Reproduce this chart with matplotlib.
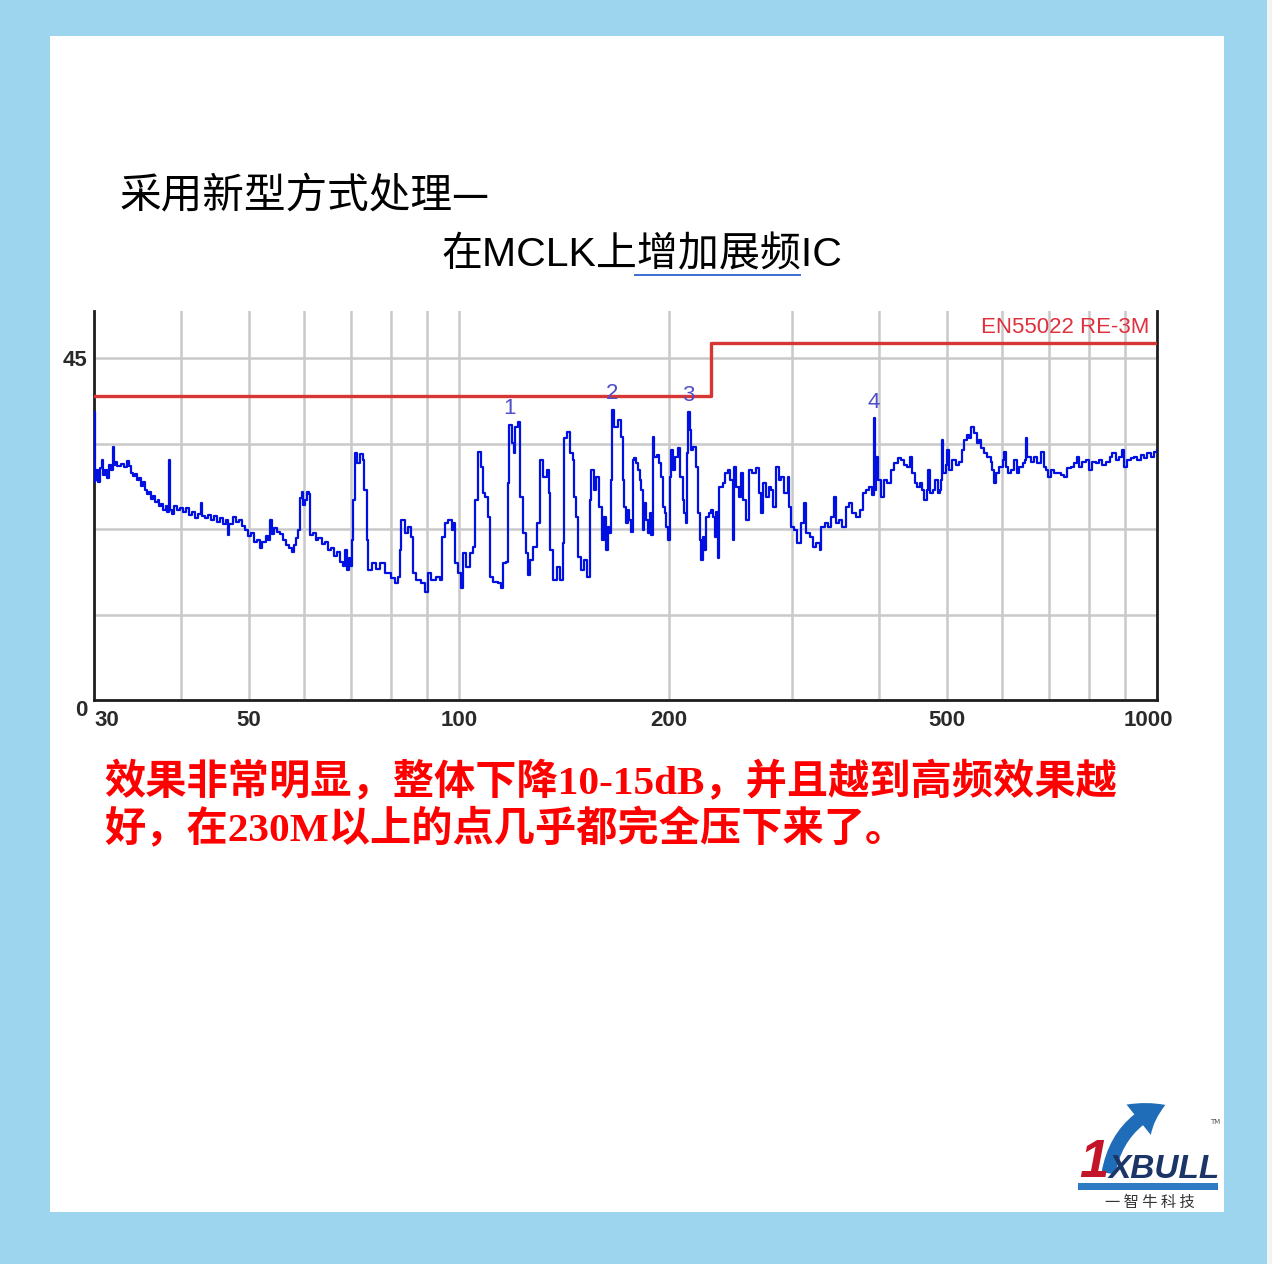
import matplotlib
matplotlib.use("Agg")
import matplotlib.pyplot as plt
import matplotlib.transforms as mtransforms
from matplotlib.patches import Rectangle, FancyArrowPatch
from matplotlib.lines import Line2D
from matplotlib.ticker import NullLocator

# ---- data (MHz, dBuV/m) ----
freq_mhz = [
    30.0, 30.05, 30.1, 30.2, 30.4, 30.6, 30.8, 30.9, 31.1, 31.3, 31.5, 31.7, 31.9, 32.0, 32.2,
    32.4, 32.8, 33.1, 33.4, 33.7, 33.9, 34.1, 34.3, 34.6, 34.8, 35.0, 35.3, 35.5, 35.7, 36.0,
    36.2, 36.5, 36.7, 37.0, 37.2, 37.4, 37.7, 38.0, 38.2, 38.4, 38.5, 38.8, 39.0, 39.4, 39.8,
    40.2, 40.6, 41.1, 41.5, 41.8, 42.3, 42.7, 42.8, 43.2, 43.7, 44.1, 44.5, 45.0, 45.4, 45.9,
    46.3, 46.6, 46.9, 47.4, 47.9, 48.4, 48.9, 49.4, 49.8, 50.3, 50.8, 51.3, 51.8, 52.3, 52.9,
    53.2, 53.6, 53.9, 54.3, 54.8, 55.4, 55.9, 56.5, 57.0, 57.6, 58.0, 58.4, 58.8, 59.2, 59.5,
    59.7, 60.1, 60.5, 60.9, 61.1, 61.7, 62.3, 62.9, 63.6, 64.2, 64.9, 65.5, 66.2, 66.9, 67.5,
    68.2, 68.6, 69.1, 69.5, 69.8, 70.2, 70.5, 70.9,
    71.5, 72.2, 72.8, 73.2, 73.9, 74.1, 75.0, 76.0, 77.0, 78.3, 80.0, 80.9, 81.8, 82.4, 82.7,
    83.6, 84.5, 85.5, 85.9, 86.9, 88.3, 89.3, 90.3, 91.3, 92.8, 93.9, 94.4, 95.4, 96.5, 97.6,
    98.1, 98.6, 99.7, 100.8, 101.4, 102.5, 103.6, 104.7, 105.5, 106.4, 107.4, 108.2, 109.1, 110.0,
    110.6, 111.8, 113.7, 115.0, 115.6, 116.8, 117.5, 118.1, 119.0, 119.8, 120.4, 121.4, 122.1,
    123.5, 124.9, 125.6, 126.3, 127.7, 129.2, 130.6, 132.1, 133.6, 134.4, 135.0, 136.4, 138.0,
    139.4, 140.8, 141.6, 142.6, 144.0, 145.5, 146.3, 147.1, 148.3, 149.6, 151.2, 152.5, 153.9,
    154.7, 156.0, 157.3, 158.9, 160.2, 161.6, 162.5, 163.3, 164.3, 165.2, 165.5, 167.0, 168.9,
    170.7, 171.6, 172.6, 173.6, 174.5, 175.5, 176.5, 177.4, 178.4, 179.4, 180.4, 181.4, 182.4,
    183.4, 184.4, 185.4, 186.5, 187.5, 188.5, 189.5, 190.5, 192.0, 193.3, 194.8, 195.9, 197.0,
    198.1, 199.2, 200.3, 201.4, 202.4, 204.2, 205.8, 207.0, 209.2, 210.4, 211.6, 212.2, 213.0,
    214.3, 215.3, 216.7, 218.6, 219.8, 221.1, 222.3, 223.5, 224.7, 226.0, 228.0, 229.8, 231.5,
    232.8, 233.6, 234.8, 236.1, 238.7, 240.8, 242.6, 244.8, 246.6, 248.0, 249.4, 251.6, 253.6,
    255.5, 257.8, 260.1, 263.1, 266.5, 268.8, 270.9, 272.9, 275.4, 277.8, 280.0, 282.1, 284.6,
    287.1, 289.3, 292.5, 295.8, 297.5, 299.1, 302, 305, 309, 312, 314, 318, 321, 325, 328.6,
    330, 334, 338, 341, 345, 347, 350, 354, 358, 362, 366, 370, 375, 379, 383, 387, 391, 393,
    395, 396, 399, 402, 406, 411,
    416, 420, 425, 430, 434, 439, 443, 446, 450, 453, 457, 461, 464, 468, 470, 473, 477, 481,
    485, 488, 490, 492, 494, 498, 501, 504, 509, 515, 520, 526, 529, 534, 538, 542, 547, 552,
    556, 560, 565, 571, 578, 581, 584, 587, 594, 601, 604, 607, 612, 617, 624, 630, 635, 642,
    647, 649, 652, 659, 666, 674, 682, 688, 693, 699, 705, 712, 720, 728, 735, 743, 752, 760,
    767, 773, 781, 790, 799, 808, 817, 826, 835, 845, 855, 863, 873, 882, 892, 897, 907, 917,
    927, 937, 948, 958, 969, 980, 990, 1000,
]
level_dbuv = [
    37.9, 28.7, 29.0, 30.3, 28.7, 30.5, 31.6, 29.6, 30.3, 29.2, 30.9, 30.3, 33.3, 30.9, 31.3,
    30.8, 31.1, 30.7, 31.4, 30.8, 29.9, 29.5, 29.7, 29.0, 29.2, 28.2, 28.7, 27.6, 27.1, 27.4,
    26.4, 26.8, 26.0, 26.3, 25.5, 25.8, 25.0, 25.5, 24.7, 31.6, 25.0, 24.5, 25.5, 25.0, 25.3,
    24.7, 25.3, 24.3, 24.7, 23.9, 24.5, 25.9, 24.2, 23.9, 24.3, 23.7, 24.2, 23.4, 23.9, 23.2,
    23.7, 21.7, 23.2, 24.1, 23.4, 23.7, 22.9, 22.4, 21.6, 22.0, 20.8, 21.1, 20.0, 20.8, 21.6,
    21.1, 23.7, 21.8, 22.6, 22.1, 21.8, 21.1, 20.4, 20.0, 19.5, 20.4, 21.3, 22.4, 26.6, 27.4,
    25.7, 26.3, 27.4, 27.1, 21.7, 22.0, 21.1, 21.3, 20.5, 20.8, 19.7, 20.0, 18.9, 19.5, 18.2,
    17.6, 19.7, 17.1, 18.7, 17.6, 21.1, 26.3, 32.5,
    31.2, 32.4, 31.6, 27.6, 21.1, 17.1, 18.0, 17.3, 18.0, 16.7, 16.1, 15.4, 16.2, 19.7, 23.7,
    22.0, 22.8, 21.4, 16.7, 15.8, 15.4, 14.2, 16.7, 15.8, 16.2, 15.8, 21.4, 23.3, 23.7, 22.4,
    23.3, 18.0, 16.7, 14.7, 19.3, 17.5, 19.3, 20.1, 26.3, 32.6, 30.7, 27.2, 26.7, 24.1,
    16.2, 15.5, 15.4, 14.7, 18.0, 18.2, 28.6, 36.2, 33.8, 32.5, 35.9, 36.6, 26.7,
    22.0, 19.3, 16.4, 18.4, 20.1, 23.3, 31.6, 29.3, 30.3, 27.2, 19.7, 15.8, 17.5,
    15.8, 20.7, 34.5, 35.3, 32.5, 31.6, 26.7, 24.1, 18.8, 17.1, 18.4, 16.2, 26.3,
    30.3, 27.6, 29.3, 25.4, 21.1, 24.1, 19.7, 22.8, 22.0, 29.0, 38.2, 35.9, 36.8,
    34.6, 29.0, 25.4, 23.3, 25.0, 23.7, 22.1, 31.6, 31.8, 31.2, 30.3, 29.0, 27.6,
    22.4, 25.9, 23.7, 22.0, 24.6, 21.7, 34.6, 32.0, 32.2, 31.2, 29.3, 25.4, 24.6,
    22.8, 21.1, 29.3, 32.9, 30.3, 32.0, 33.2, 29.3, 26.3, 24.6, 23.3, 32.5, 37.9,
    35.5, 32.9, 33.3, 30.7, 24.6, 21.1, 18.4, 21.4, 19.7, 24.1, 24.6, 25.0, 24.1,
    21.4, 24.7, 18.7, 28.0, 28.6, 29.9, 30.3, 29.0, 21.1, 30.7, 28.0, 26.7, 29.9,
    26.3, 23.7, 30.3, 29.9, 30.5, 27.2, 24.6, 28.6, 26.7, 28.0, 27.6, 25.4, 30.7,
    29.0, 29.3, 27.2, 29.3, 25.4, 22.8, 22.4, 20.7, 23.3, 25.9, 22.0, 21.4, 20.1, 20.7, 19.7,
    22.8, 23.3, 22.8, 24.1, 26.7, 23.3, 23.7, 22.8, 25.4, 25.9, 24.6, 24.1, 25.0, 27.2, 27.6, 28.0, 27.0, 37.1,
    27.6, 32.0, 29.0, 26.7, 29.0, 28.6,
    30.3, 31.2, 31.8, 31.6, 30.9, 30.7, 32.0, 29.9, 28.6, 28.0, 28.6, 27.6, 26.3, 27.6, 30.3, 27.2, 27.6, 29.0,
    27.2, 27.6, 29.0, 34.2, 29.9, 30.9, 32.9, 30.3, 31.6, 30.9, 31.3, 32.9, 34.2, 34.9, 34.5, 35.9, 35.1, 33.8,
    34.2, 33.2, 32.5, 32.0, 31.3, 30.3, 28.6, 29.9, 30.7, 31.6, 32.6, 30.7, 29.9, 30.3, 31.6, 29.9, 30.7, 31.2,
    31.6, 34.5, 32.0, 31.3, 32.0, 31.2, 32.6, 30.7, 30.3, 29.3, 30.3, 29.9, 29.9, 29.6, 29.3, 30.5, 30.7, 31.2,
    32.0, 30.7, 31.3, 31.6, 30.3, 31.3, 31.2, 31.6, 30.9, 31.3, 32.0, 32.5, 31.6, 32.0, 32.9, 30.7, 31.6, 31.8,
    32.0, 31.6, 32.2, 31.8, 32.5, 32.0, 32.6, 32.9,
]

limit_freq = [30, 230, 230, 1000]
limit_level = [40, 40, 47, 47]
limit_name = "EN55022 RE-3M"

marker_freq = [118.1, 165.5, 213.0, 393]
marker_level = [36.2, 38.2, 37.9, 37.1]
marker_names = ["1", "2", "3", "4"]

grid_freq = [30, 40, 50, 60, 70, 80, 90, 100, 200, 300, 400, 500, 600, 700, 800, 900, 1000]
labelled_freq = [30, 50, 100, 200, 500, 1000]
y_grid = [0, 11.25, 22.5, 33.75, 45]
y_labels = ["0", "", "", "", "45"]

title_1 = "采用新型方式处理—"
title_2 = "在MCLK上增加展频IC"
note_1 = "效果非常明显，整体下降10-15dB，并且越到高频效果越"
note_2 = "好，在230M以上的点几乎都完全压下来了。"

W, H = 1272, 1264


def fx(x):
    return x / W


def fy(y):
    return 1 - y / H


fig = plt.figure(figsize=(W / 100, H / 100), dpi=100, facecolor="#9DD4EE")

# white sheet (behind everything)
fig.patches.append(Rectangle((fx(50), fy(1212)), (1224 - 50) / W, (1212 - 36) / H,
                             transform=fig.transFigure, facecolor="white", edgecolor="none", zorder=-5))
fig.patches.append(Rectangle((fx(1267), 0), 5 / W, 1, transform=fig.transFigure,
                             facecolor="#F3F3F3", edgecolor="none", zorder=-5))

# headings
fig.text(fx(120), fy(197), title_1, fontsize=30, family=["Noto Sans CJK SC", "DejaVu Sans"],
         color="black", va="center", ha="left")
fig.text(fx(441), fy(255), title_2, fontsize=29.5, family=["Liberation Sans", "Noto Sans CJK SC"],
         color="black", va="center", ha="left")
fig.add_artist(Line2D([fx(635), fx(800)], [fy(275), fy(275)], color="#3A6FD0", lw=1.4,
                      transform=fig.transFigure))

# chart
ax = fig.add_axes([fx(94), fy(700), 1063 / W, 389 / H])
ax.set_xscale("log")
ax.set_xlim(30, 1000)
ax.set_ylim(0, 51.2)
ax.xaxis.set_minor_locator(NullLocator())
ax.set_xticks(grid_freq, labels=[str(f) if f in labelled_freq else "" for f in grid_freq])
ax.set_yticks(y_grid, labels=y_labels)
ax.grid(True, color="#C9C9C9", lw=1.8)
ax.set_axisbelow(True)
ax.tick_params(length=0, labelsize=16, labelcolor="#2A2A2A")
ax.tick_params(axis="x", pad=7)
ax.tick_params(axis="y", pad=5)
for lab in ax.get_xticklabels() + ax.get_yticklabels():
    lab.set_family("Liberation Sans")
    lab.set_fontweight("bold")
xl = ax.get_xticklabels()
xl[0].set_ha("left")
shift = mtransforms.ScaledTranslation(-9 / 100, 0, fig.dpi_scale_trans)
xl[-1].set_transform(xl[-1].get_transform() + shift)
ax.yaxis.get_majorticklabels()[0].set_va("top")
for s in ["left", "bottom", "right"]:
    ax.spines[s].set_color("#1E1E1E")
    ax.spines[s].set_linewidth(2)
ax.spines["top"].set_visible(False)

ax.plot(limit_freq, limit_level, color="#D83535", lw=2.4, zorder=3)
ax.text(0.993, 0.958, limit_name, transform=ax.transAxes, ha="right", va="center",
        fontsize=16, color="#E0303E", family="Liberation Sans")
ax.plot(freq_mhz, level_dbuv, color="#0010E0", lw=1.6, zorder=4, drawstyle="steps-post")
for f, v, n in zip(marker_freq, marker_level, marker_names):
    ax.annotate(n, (f, v), xytext=(0, 4), textcoords="offset points", ha="center", va="bottom",
                fontsize=16, color="#4E4EC8", family="Liberation Sans")

# red remarks
red_font = ["Liberation Serif", "Noto Sans CJK SC"]
fig.text(fx(104), fy(783), note_1, fontsize=29.7, weight="bold", color="#FF0000", family=red_font,
         va="center", ha="left")
fig.text(fx(104), fy(830), note_2, fontsize=29.7, weight="bold", color="#FF0000", family=red_font,
         va="center", ha="left")

# logo
fig.add_artist(FancyArrowPatch((fx(1108), fy(1176)), (fx(1168), fy(1104)), transform=fig.transFigure,
                               connectionstyle="arc3,rad=-0.3",
                               arrowstyle="simple,head_width=1.4,head_length=1.1,tail_width=0.5",
                               mutation_scale=20, color="#1F6DB8", lw=0))
fig.text(fx(1094), fy(1163), "1", fontsize=38, style="italic", weight="bold", color="#C4142A",
         family="Liberation Sans", ha="center", va="center")
fig.text(fx(1164), fy(1170), "XBULL", fontsize=24, style="italic", weight="bold", color="#1B3566",
         family="Liberation Sans", ha="center", va="center")
fig.patches.append(Rectangle((fx(1078), fy(1190)), 140 / W, 7 / H, transform=fig.transFigure,
                             facecolor="#2E7BC4", edgecolor="none"))
fig.text(fx(1150), fy(1202), "一 智 牛 科 技", fontsize=11, color="#333333",
         family=["Noto Sans CJK SC", "DejaVu Sans"], ha="center", va="center")
fig.text(fx(1215), fy(1122), "TM", fontsize=5, color="#555555", ha="center", va="center")

fig.savefig("out.png", dpi=100)
